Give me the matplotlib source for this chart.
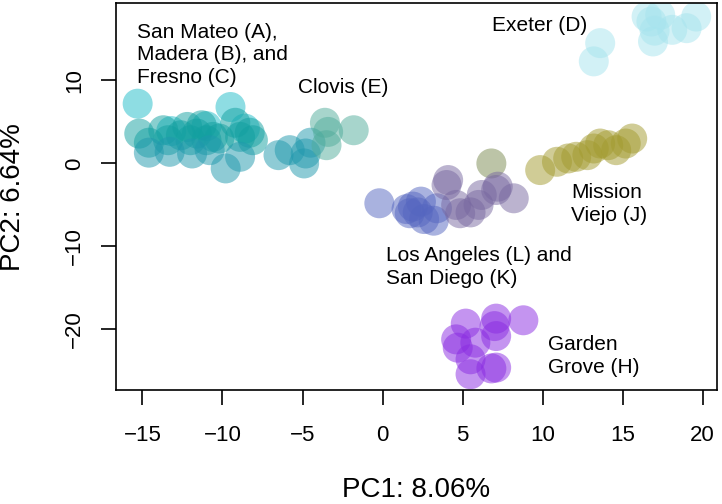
import matplotlib
matplotlib.use("Agg")
import matplotlib.pyplot as plt

plt.rcParams['font.family'] = ['Liberation Sans', 'DejaVu Sans']

# PCA scores, one pair of lists per site
a_x = [-15.3, -9.5, -13.2, -11.0, -8.6]
a_y = [7.2, 6.8, 3.9, 4.5, 4.2]
b_x = [-15.2, -14.6, -13.7, -13.4, -12.6, -12.2, -12.0, -11.6, -11.3, -11.0, -10.6, -10.2, -8.9, -8.3, -8.1, -9.2]
b_y = [3.6, 2.5, 4.0, 2.8, 3.4, 4.4, 2.8, 3.6, 4.6, 2.8, 3.2, 3.0, 3.2, 3.7, 2.8, 4.9]
c_x = [-14.6, -13.3, -11.9, -10.8, -9.8, -8.9, -6.5, -5.8, -4.8, -4.9, -4.5]
c_y = [1.3, 1.4, 1.2, 1.6, -0.6, 0.8, 1.0, 1.6, 1.2, 0.0, 2.5]
e_x = [-3.6, -3.4, -3.5, -1.8]
e_y = [4.9, 3.8, 2.2, 4.0]
d_x = [13.6, 13.2, 16.8, 16.9, 18.1, 19.0, 19.6, 17.35, 16.5, 17.0]
d_y = [14.5, 12.3, 17.1, 14.7, 16.1, 16.3, 17.7, 17.9, 17.7, 16.0]
j_x = [9.85, 10.9, 11.6, 12.1, 12.8, 13.2, 13.6, 14.1, 14.6, 15.2, 15.6]
j_y = [-0.8, 0.2, 0.6, 0.8, 1.0, 1.8, 2.4, 2.2, 1.6, 2.4, 3.0]
o_x = [6.8]
o_y = [0.0]
l_x = [-0.2, 1.9, 1.7, 2.2, 2.6, 3.2, 3.4, 2.4, 1.5]
l_y = [-4.8, -5.2, -6.0, -5.9, -6.7, -6.9, -5.4, -4.6, -5.5]
k_x = [4.0, 4.1, 4.6, 4.85, 5.5, 6.0, 6.2, 7.1, 7.2, 8.2]
k_y = [-2.6, -2.0, -5.0, -6.0, -5.9, -5.0, -3.8, -3.2, -2.8, -4.2]
h_x = [5.2, 4.6, 4.7, 5.8, 5.5, 5.5, 7.1, 7.0, 7.1, 8.8, 7.1, 6.8]
h_y = [-19.3, -21.2, -22.2, -21.6, -23.6, -25.4, -18.7, -19.6, -20.8, -18.9, -24.6, -24.7]

groups = [
    (a_x, a_y, '#1ebcc8'),
    (b_x, b_y, '#12a0a0'),
    (c_x, c_y, '#1f98ad'),
    (e_x, e_y, '#50ac9b'),
    (d_x, d_y, '#a6e4ee'),
    (j_x, j_y, '#a39b2f'),
    (o_x, o_y, '#7a8a50'),
    (l_x, l_y, '#5566c0'),
    (k_x, k_y, '#7868a0'),
    (h_x, h_y, '#8a2be2'),
]

# y is the baseline of the last line of each label
labels = [
    (-15.36, 9.67, 'San Mateo (A),\nMadera (B), and\nFresno (C)'),
    (-5.26, 8.46, 'Clovis (E)'),
    (6.87, 15.9, 'Exeter (D)'),
    (11.79, -6.94, 'Mission\nViejo (J)'),
    (0.225, -14.5, 'Los Angeles (L) and\nSan Diego (K)'),
    (10.33, -25.2, 'Garden\nGrove (H)'),
]

fig = plt.figure(figsize=(7.22, 5.04), dpi=100)
ax = fig.add_axes([0.1603, 0.2262, 0.8328, 0.7673])

for xs, ys, col in groups:
    ax.scatter(xs, ys, s=466, c=col, alpha=0.5, edgecolors='none')

for x, y, txt in labels:
    ax.text(x, y, txt, fontsize=15, ha='left', va='baseline', linespacing=1.25)

ax.set_xlim(-16.67, 20.9)
ax.set_ylim(-27.3, 19.3)
ax.set_xticks([-15, -10, -5, 0, 5, 10, 15, 20])
ax.set_yticks([-20, -10, 0, 10])

for sp in ax.spines.values():
    sp.set_linewidth(1.2)
ax.tick_params(axis='both', direction='out', length=11, width=1.2, labelsize=16, pad=14)
ax.tick_params(axis='y', pad=11)
for lab in ax.get_yticklabels():
    lab.set_rotation(90)
    lab.set_va('center')

ax.set_xlabel('PC1: 8.06%', fontsize=20)
ax.set_ylabel('PC2: 6.64%', fontsize=20)
ax.xaxis.label.set_va('center')
ax.yaxis.label.set_va('center')
ax.xaxis.set_label_coords(0.5, -0.2586)
ax.yaxis.set_label_coords(-0.1708, 0.5)

fig.savefig('out.png', dpi=100)
